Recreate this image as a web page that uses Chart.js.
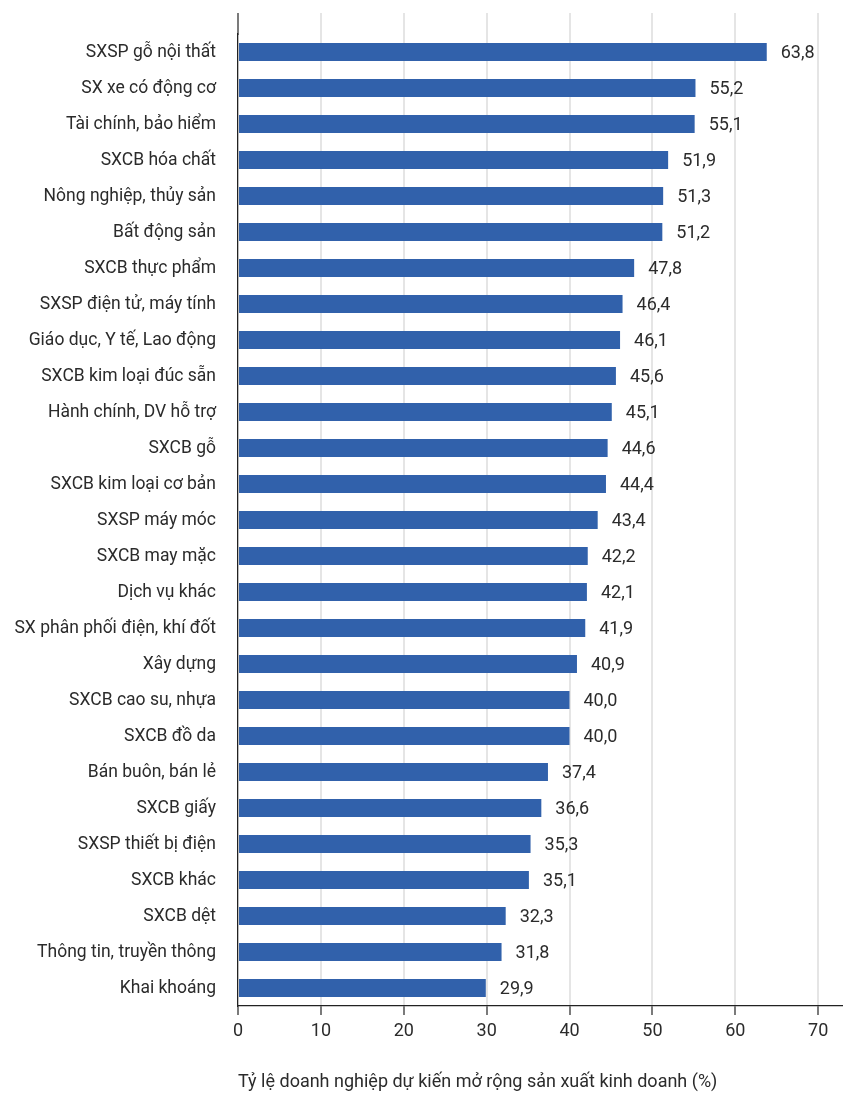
<!DOCTYPE html>
<html>
<head>
<meta charset="utf-8">
<script src="https://cdn.jsdelivr.net/npm/chart.js@4/dist/chart.umd.min.js"></script>
<style>
  body { margin: 0; background: #fff; }
  #wrap { width: 843px; height: 1093px; }
</style>
</head>
<body>
<div id="wrap"><canvas id="c" width="843" height="1093"></canvas></div>
<script>
// Danh mục ngành và tỷ lệ (%)
const categories = [
    'SXSP gỗ nội thất', 'SX xe có động cơ', 'Tài chính, bảo hiểm', 'SXCB hóa chất',
    'Nông nghiệp, thủy sản', 'Bất động sản', 'SXCB thực phẩm', 'SXSP điện tử, máy tính',
    'Giáo dục, Y tế, Lao động', 'SXCB kim loại đúc sẵn', 'Hành chính, DV hỗ trợ', 'SXCB gỗ',
    'SXCB kim loại cơ bản', 'SXSP máy móc', 'SXCB may mặc', 'Dịch vụ khác',
    'SX phân phối điện, khí đốt', 'Xây dựng', 'SXCB cao su, nhựa', 'SXCB đồ da',
    'Bán buôn, bán lẻ', 'SXCB giấy', 'SXSP thiết bị điện', 'SXCB khác',
    'SXCB dệt', 'Thông tin, truyền thông', 'Khai khoáng'
];
const values = [
    63.8, 55.2, 55.1, 51.9,
    51.3, 51.2, 47.8, 46.4,
    46.1, 45.6, 45.1, 44.6,
    44.4, 43.4, 42.2, 42.1,
    41.9, 40.9, 40.0, 40.0,
    37.4, 36.6, 35.3, 35.1,
    32.3, 31.8, 29.9
];
const xTicks = [0, 10, 20, 30, 40, 50, 60, 70];
const axisTitle = 'Tỷ lệ doanh nghiệp dự kiến mở rộng sản xuất kinh doanh (%)';

const FONT = 'Roboto';
const TEXT = '#2b2b2b';
const BAR = '#3161ab';
const GRID = '#e5e5e5';
const AXIS = '#222';
const PLOT_TOP = 13;

// Kéo dài lưới và trục Y lên phía trên vùng vẽ
const extendGrid = {
    id: 'extendGrid',
    beforeDatasetsDraw(chart) {
        const { ctx, chartArea, scales } = chart;
        ctx.save();
        ctx.strokeStyle = GRID;
        ctx.lineWidth = 2;
        scales.x.ticks.forEach(t => {
            if (t.value === 0) return;
            const x = Math.round(scales.x.getPixelForValue(t.value));
            ctx.beginPath();
            ctx.moveTo(x, PLOT_TOP);
            ctx.lineTo(x, chartArea.top);
            ctx.stroke();
        });
        ctx.strokeStyle = AXIS;
        ctx.lineWidth = 1.2;
        ctx.beginPath();
        ctx.moveTo(chartArea.left, PLOT_TOP);
        ctx.lineTo(chartArea.left, chartArea.top + 1);
        ctx.stroke();
        ctx.restore();
    }
};

// Nhãn giá trị ở cuối thanh
const valueLabels = {
    id: 'valueLabels',
    afterDatasetsDraw(chart) {
        const { ctx } = chart;
        const meta = chart.getDatasetMeta(0);
        ctx.save();
        ctx.font = `18px ${FONT}`;
        ctx.fillStyle = TEXT;
        ctx.textAlign = 'left';
        ctx.textBaseline = 'middle';
        meta.data.forEach((bar, i) => {
            ctx.fillText(values[i].toFixed(1).replace('.', ','), bar.x + 14, bar.y + 1);
        });
        ctx.restore();
    }
};

new Chart(document.getElementById('c'), {
    type: 'bar',
    data: {
        labels: categories,
        datasets: [{
            data: values,
            backgroundColor: BAR,
            borderWidth: 0,
            barPercentage: 0.5,
            categoryPercentage: 1
        }]
    },
    options: {
        indexAxis: 'y',
        responsive: false,
        animation: false,
        layout: { padding: { top: 34, right: 0, left: 0, bottom: 0 } },
        plugins: {
            legend: { display: false },
            tooltip: { enabled: false }
        },
        scales: {
            x: {
                min: 0,
                max: 73,
                afterBuildTicks: (scale) => {
                    scale.ticks = xTicks.map(v => ({ value: v }));
                },
                afterFit: (scale) => { scale.height = 87; },
                grid: {
                    color: GRID,
                    lineWidth: 2,
                    drawTicks: true,
                    tickLength: 9,
                    tickColor: AXIS,
                    tickWidth: 1.2
                },
                border: { display: true, color: AXIS, width: 1.2 },
                ticks: {
                    color: TEXT,
                    padding: 6,
                    maxRotation: 0,
                    font: { family: FONT, size: 18 }
                },
                title: {
                    display: true,
                    text: axisTitle,
                    align: 'start',
                    color: TEXT,
                    padding: { top: 0, bottom: 0 },
                    font: { family: FONT, size: 18 }
                }
            },
            y: {
                afterFit: (scale) => { scale.width = 238; },
                grid: { display: false, drawTicks: false },
                border: { display: true, color: AXIS, width: 1.2 },
                ticks: {
                    color: TEXT,
                    padding: 22,
                    labelOffset: 1,
                    autoSkip: false,
                    font: { family: FONT, size: 17.5 }
                }
            }
        }
    },
    plugins: [extendGrid, valueLabels]
});
</script>
</body>
</html>
